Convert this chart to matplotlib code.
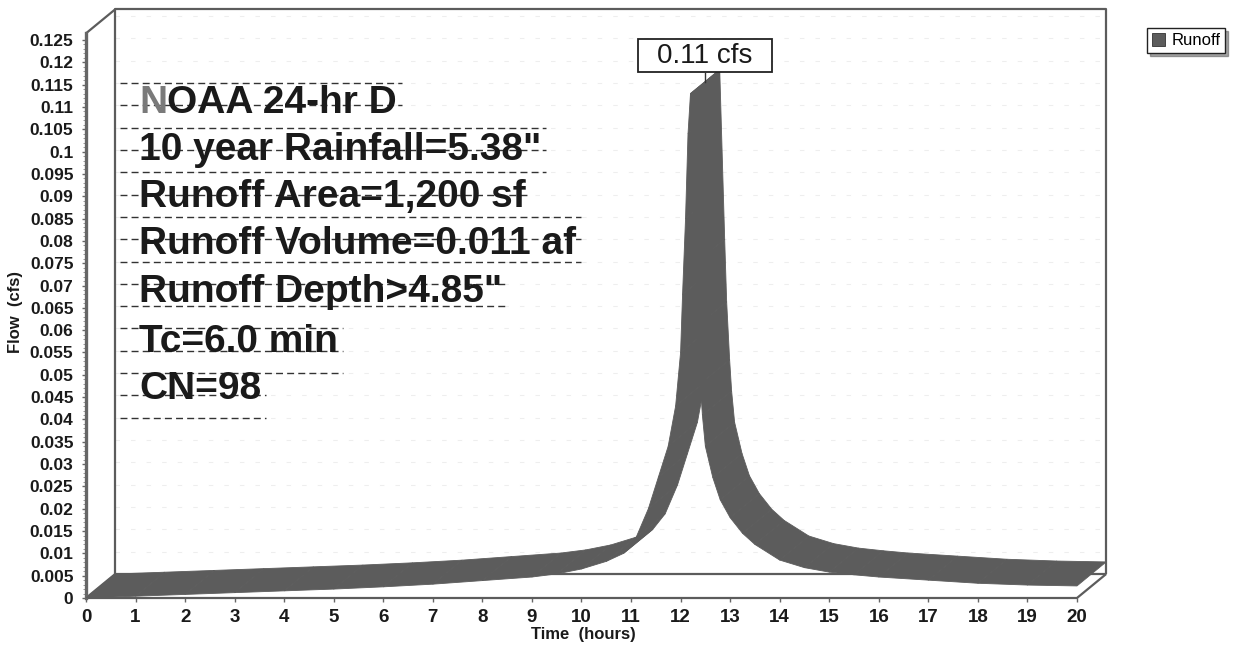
import matplotlib
matplotlib.use('Agg')
import matplotlib.pyplot as plt
import numpy as np
from matplotlib.collections import PolyCollection
from matplotlib.patches import Rectangle, Patch

# ---------------- data ----------------
time_hr = [0, 1, 2, 3, 4, 5, 6, 7, 8, 9, 9.5, 10, 10.5, 10.85, 11.1, 11.35, 11.55,
           11.75, 11.9, 12.0, 12.04, 12.1, 12.15, 12.2, 12.3, 12.34, 12.4, 12.44, 12.5,
           12.65, 12.8, 13.0, 13.25, 13.5, 14.0, 14.5, 15, 15.5, 16, 17, 18, 19, 20]
flow_cfs = [0.0, 0.0004, 0.0008, 0.0012, 0.0016, 0.0020, 0.0025, 0.0031, 0.0039,
            0.0047, 0.0054, 0.0065, 0.0082, 0.0100, 0.0135, 0.0200, 0.0270, 0.0340,
            0.0430, 0.0550, 0.0680, 0.0850, 0.1040, 0.1130, 0.0750, 0.0610, 0.0480,
            0.0410, 0.0340, 0.0270, 0.0220, 0.0180, 0.0145, 0.0120, 0.0085, 0.0068,
            0.0058, 0.0052, 0.0047, 0.0040, 0.0033, 0.0029, 0.0027]
series_name = 'Runoff'
peak_label = '0.11 cfs'
x_ticks = list(range(0, 21))
y_ticks = [0, 0.005, 0.01, 0.015, 0.02, 0.025, 0.03, 0.035, 0.04, 0.045, 0.05,
           0.055, 0.06, 0.065, 0.07, 0.075, 0.08, 0.085, 0.09, 0.095, 0.1, 0.105,
           0.11, 0.115, 0.12, 0.125]
y_tick_labels = ['0', '0.005', '0.01', '0.015', '0.02', '0.025', '0.03', '0.035',
                 '0.04', '0.045', '0.05', '0.055', '0.06', '0.065', '0.07', '0.075',
                 '0.08', '0.085', '0.09', '0.095', '0.1', '0.105', '0.11', '0.115',
                 '0.12', '0.125']
info_lines = ['NOAA 24-hr D', '10 year Rainfall=5.38"', 'Runoff Area=1,200 sf',
              'Runoff Volume=0.011 af', 'Runoff Depth>4.85"', 'Tc=6.0 min', 'CN=98']
x_label = 'Time  (hours)'
y_label = 'Flow  (cfs)'

# ---------------- style ----------------
plt.rcParams['font.family'] = ['Liberation Sans', 'DejaVu Sans']
W, H = 1238, 649
RIB = '#5c5c5c'
EDGE = '#5c5c5c'
DX, DY, YTOP = 0.59, 0.00538, 0.1265

fig = plt.figure(figsize=(W / 100, H / 100), dpi=100)
fig.patch.set_facecolor('white')
ax = fig.add_axes([86 / W, (H - 598) / H, (1106.2 - 86) / W, (598 - 9.3) / H])
ax.set_xlim(0, 20 + DX)
ax.set_ylim(0, YTOP + DY)
for s in ax.spines.values():
    s.set_visible(False)
ax.set_facecolor('white')

# back wall
ax.add_patch(Rectangle((DX, DY), 20, YTOP, fc='white', ec='none', zorder=0))
# faint gridlines on back wall
for g in y_ticks[1:]:
    ax.plot([DX, 20 + DX], [g + DY, g + DY], color='#eeeeee', lw=0.8,
            ls=(0, (4, 10)), zorder=0.5)

# box edges
kw = dict(color=EDGE, lw=1.6, clip_on=False, zorder=2, solid_capstyle='butt')
ax.plot([DX, DX, 20 + DX, 20 + DX], [DY, YTOP + DY, YTOP + DY, DY], **kw)
ax.plot([DX, 20 + DX], [DY, DY], **kw)
ax.plot([0, DX], [0, DY], **kw)
ax.plot([0, DX], [YTOP, YTOP + DY], **kw)
ax.plot([0, 20, 20 + DX], [0, 0, DY], **kw)
ax.plot([0, 0], [0, YTOP], color='#666666', lw=2.4, clip_on=False, zorder=2)

# ribbon
t = np.asarray(time_hr, float)
q = np.asarray(flow_cfs, float)
polys = []
for i in range(len(t) - 1):
    polys.append([(t[i], q[i]), (t[i + 1], q[i + 1]),
                  (t[i + 1] + DX, q[i + 1] + DY), (t[i] + DX, q[i] + DY)])
pc = PolyCollection(polys, facecolors=RIB, edgecolors=RIB, linewidths=0.6, zorder=3)
ax.add_collection(pc)

# peak label
ipk = int(np.argmax(q))
mx, my = t[ipk] + DX / 2, q[ipk] + DY / 2
bw, bh, gap = 2.7, 0.0074, 0.0021
ax.add_patch(Rectangle((mx - bw / 2, my + gap), bw, bh, fc='white', ec='#222222',
                       lw=1.3, zorder=6))
ax.text(mx, my + gap + bh / 2, peak_label, ha='center', va='center', fontsize=20,
        color='#1a1a1a', zorder=7)
ax.plot([mx, mx], [my, my + gap], color='#333333', lw=1.0, zorder=6)

# ticks
ax.set_xticks(x_ticks)
ax.set_xticklabels([str(v) for v in x_ticks])
ax.set_yticks(y_ticks)
ax.set_yticklabels(y_tick_labels)
ax.set_yticks(np.arange(0, 0.1255, 0.001), minor=True)
ax.tick_params(axis='x', length=3, width=1, color='#666666', pad=5,
               labelsize=13.5, labelcolor='#1a1a1a')
ax.tick_params(axis='y', which='major', length=3, width=1, color='#666666', pad=6,
               labelsize=12.5, labelcolor='#1a1a1a')
ax.tick_params(axis='y', which='minor', length=2, width=0.6, color='#888888')
for lab in ax.get_xticklabels() + ax.get_yticklabels():
    lab.set_fontweight('bold')

fig.text(583 / W, 1 - 634 / H, x_label, ha='center', va='center', fontsize=12,
         fontweight='bold', color='#1a1a1a')
fig.text(16 / W, 1 - 312 / H, y_label, ha='center', va='center', fontsize=12,
         fontweight='bold', rotation=90, color='#1a1a1a')

# info text block
line_px = [103, 150, 197, 244, 292, 342, 389]
tx = (139 - 86) / 49.55
txt_objs = []
for s, py in zip(info_lines, line_px):
    yv = (598 - py) / 4464.0
    if s.startswith('N'):
        tN = ax.text(tx, yv, s[0], fontsize=28, fontweight='bold', va='center',
                     ha='left', color='#7a7a7a', zorder=5)
        tr = ax.annotate(s[1:], xy=(1, 0), xycoords=tN, va='bottom', ha='left',
                         fontsize=28, fontweight='bold', color='#1a1a1a', zorder=5)
        txt_objs += [tN, tr]
    else:
        txt_objs.append(ax.text(tx, yv, s, fontsize=28, fontweight='bold',
                                va='center', ha='left', color='#1a1a1a', zorder=5))

fig.canvas.draw()
rend = fig.canvas.get_renderer()
inv = ax.transData.inverted()
bbs = [o.get_window_extent(rend).transformed(inv) for o in txt_objs]
for g in y_ticks[1:]:
    gy = g + DY
    right = None
    for bb in bbs:
        if bb.y0 - 0.004 <= gy <= bb.y1 + 0.004:
            right = bb.x1 if right is None else max(right, bb.x1)
    if right is not None:
        ax.plot([DX + 0.1, right + 0.1], [gy, gy], color='#333333', lw=1.0,
                ls=(0, (5, 3)), zorder=1)

# legend
leg = fig.legend(handles=[Patch(fc=RIB, ec='#333333', lw=0.6)], labels=[series_name],
                 loc='upper left', bbox_to_anchor=(1147 / W, 1 - 28 / H),
                 fontsize=12, frameon=True, fancybox=False, shadow=True,
                 edgecolor='#222222', framealpha=1, borderpad=0.3,
                 handlelength=0.8, handleheight=0.8, handletextpad=0.35,
                 borderaxespad=0)
leg.get_frame().set_linewidth(1.0)

fig.savefig('out.png', dpi=100, facecolor='white')
